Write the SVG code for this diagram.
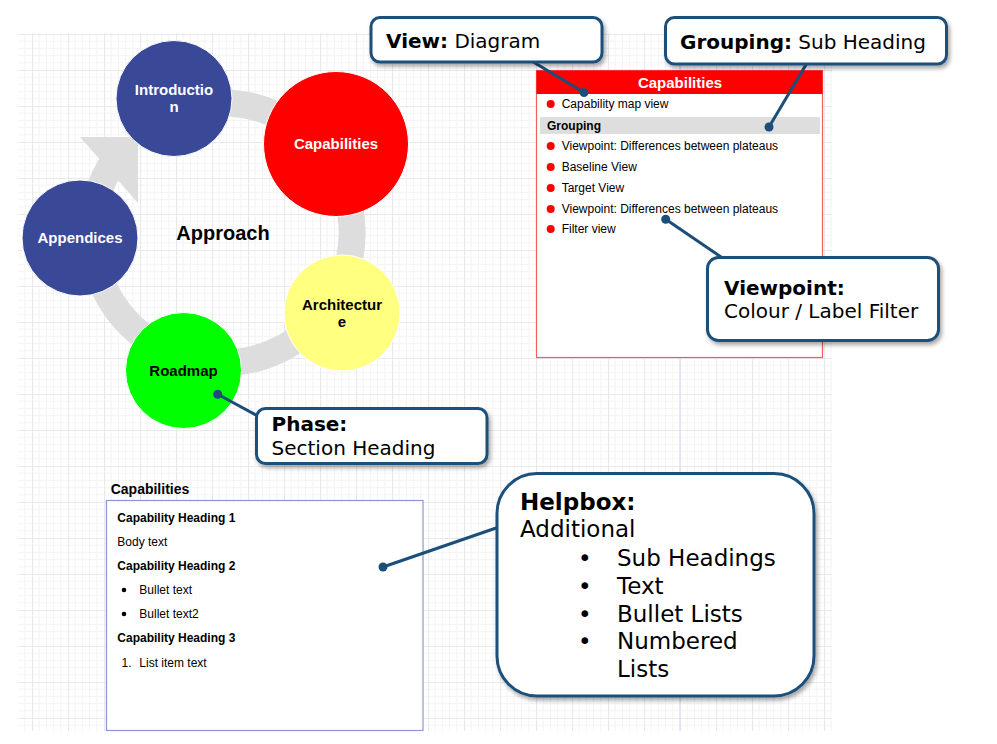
<svg xmlns="http://www.w3.org/2000/svg" width="997" height="744" viewBox="0 0 997 744">
  <defs>
    <pattern id="grid" patternUnits="userSpaceOnUse" x="32" y="34" width="36" height="36">
      <path d="M7.2 0V36M14.4 0V36M21.6 0V36M28.8 0V36M0 7.2H36M0 14.4H36M0 21.6H36M0 28.8H36" stroke="#f4f4f4" stroke-width="1" fill="none"/>
      <path d="M0.5 0V36M0 0.5H36" stroke="#e9e9e9" stroke-width="1.2" fill="none"/>
    </pattern>
    <filter id="shadow" x="-10%" y="-20%" width="125%" height="150%">
      <feDropShadow dx="2" dy="3" stdDeviation="2" flood-color="#000" flood-opacity="0.35"/>
    </filter>
  </defs>
  <style>
    .phase { stroke: #ffffff; stroke-width: 1; }
    .pt { font-family: "Liberation Sans", Arial, sans-serif; font-size: 15px; font-weight: bold; text-anchor: middle; }
    .w { fill: #ffffff; }
    .k { fill: #000000; }
    .callout { fill: #ffffff; stroke: #1b4f7a; stroke-width: 3; filter: url(#shadow); }
    .ct { font-family: "DejaVu Sans", Verdana, sans-serif; font-size: 20px; fill: #000; }
    .hb { font-family: "DejaVu Sans", Verdana, sans-serif; font-size: 23px; fill: #000; }
    .b { font-weight: bold; }
    .conn { stroke: #1b4f7a; stroke-width: 3; fill: none; }
    .dot { fill: #1b4f7a; }
    .it { font-family: "Liberation Sans", Arial, sans-serif; font-size: 12px; fill: #000; }
    .rb { fill: #ff0000; }
  </style>

  <rect x="0" y="0" width="997" height="744" fill="#ffffff"/>
  <rect x="18" y="33" width="814" height="698" fill="url(#grid)"/>
  <line x1="680" y1="33" x2="680" y2="731" stroke="#e0e0f6" stroke-width="1.5"/>

  <!-- Approach cycle -->
  <g id="cycle-arrow">
    <path d="M157 120.4 A130 130 0 1 1 111.8 164.1" fill="none" stroke="#dddddd" stroke-width="27"/>
    <polygon points="80,137 138,137 138,203" fill="#dddddd"/>
  </g>
  <g id="approach-label">
    <text x="223" y="240" font-family="Liberation Sans, Arial, sans-serif" font-size="20" font-weight="bold" text-anchor="middle">Approach</text>
  </g>
  <g id="node-introduction">
    <circle class="phase" cx="174" cy="98.5" r="58" fill="#3a4898"/>
    <text class="pt w" x="174" y="95">Introductio</text>
    <text class="pt w" x="174" y="112">n</text>
  </g>
  <g id="node-capabilities">
    <circle class="phase" cx="336" cy="144" r="72.5" fill="#ff0000"/>
    <text class="pt w" x="336" y="149">Capabilities</text>
  </g>
  <g id="node-appendices">
    <circle class="phase" cx="80" cy="238" r="58" fill="#3a4898"/>
    <text class="pt w" x="80" y="243">Appendices</text>
  </g>
  <g id="node-architecture">
    <circle class="phase" cx="342" cy="313" r="58" fill="#ffff80"/>
    <text class="pt k" x="342" y="310">Architectur</text>
    <text class="pt k" x="342" y="327">e</text>
  </g>
  <g id="node-roadmap">
    <circle class="phase" cx="183.5" cy="370.5" r="58" fill="#00ff00"/>
    <text class="pt k" x="183.5" y="376">Roadmap</text>
  </g>

  <!-- Capabilities panel -->
  <g id="panel-capabilities">
    <rect x="536.5" y="70.5" width="286" height="287" fill="#ffffff" stroke="#f06060" stroke-width="1.2"/>
    <rect x="536.5" y="70.5" width="286" height="23.5" fill="#ff0000"/>
    <text x="680" y="88" font-family="Liberation Sans, Arial, sans-serif" font-size="15" font-weight="bold" fill="#ffffff" text-anchor="middle">Capabilities</text>
    <circle class="rb" cx="550.7" cy="104" r="4"/>
    <text class="it" x="561.7" y="108">Capability map view</text>
    <rect x="540" y="117" width="280" height="17" fill="#dedede"/>
    <text class="it b" x="547" y="129.5">Grouping</text>
    <circle class="rb" cx="550.7" cy="146" r="4"/>
    <text class="it" x="561.7" y="150">Viewpoint: Differences between plateaus</text>
    <circle class="rb" cx="550.7" cy="167" r="4"/>
    <text class="it" x="561.7" y="171">Baseline View</text>
    <circle class="rb" cx="550.7" cy="188" r="4"/>
    <text class="it" x="561.7" y="192">Target View</text>
    <circle class="rb" cx="550.7" cy="209" r="4"/>
    <text class="it" x="561.7" y="213">Viewpoint: Differences between plateaus</text>
    <circle class="rb" cx="550.7" cy="229" r="4"/>
    <text class="it" x="561.7" y="233">Filter view</text>
  </g>

  <!-- Document box -->
  <g id="doc-capabilities">
    <text x="110.7" y="494" font-family="Liberation Sans, Arial, sans-serif" font-size="14" font-weight="bold">Capabilities</text>
    <rect x="106.5" y="500.5" width="316.5" height="230" fill="#ffffff" stroke="#8e97d6" stroke-width="1.2"/>
    <text class="it b" x="117.3" y="522">Capability Heading 1</text>
    <text class="it" x="117.3" y="546">Body text</text>
    <text class="it b" x="117.3" y="570">Capability Heading 2</text>
    <circle cx="124" cy="590" r="2.3" fill="#000"/>
    <text class="it" x="139.3" y="594">Bullet text</text>
    <circle cx="124" cy="614" r="2.3" fill="#000"/>
    <text class="it" x="139.3" y="618">Bullet text2</text>
    <text class="it b" x="117.3" y="642">Capability Heading 3</text>
    <text class="it" x="121.5" y="667">1.</text>
    <text class="it" x="139.3" y="667">List item text</text>
  </g>

  <!-- Connectors -->
  <g id="connectors">
    <line class="conn" x1="530" y1="60" x2="584" y2="92.5"/>
    <circle class="dot" cx="584" cy="92.5" r="4.5"/>
    <line class="conn" x1="807" y1="63" x2="769" y2="127"/>
    <circle class="dot" cx="769" cy="127" r="4.5"/>
    <line class="conn" x1="724" y1="259" x2="665.7" y2="219.3"/>
    <circle class="dot" cx="665.7" cy="219.3" r="4.5"/>
    <line class="conn" x1="258" y1="416" x2="217.7" y2="394.3"/>
    <circle class="dot" cx="217.7" cy="394.3" r="4.5"/>
    <line class="conn" x1="499" y1="527" x2="383" y2="567"/>
    <circle class="dot" cx="383" cy="567" r="4.5"/>
  </g>

  <!-- Callouts -->
  <g id="callout-view">
    <rect class="callout" x="371" y="17.5" width="231" height="44.5" rx="9"/>
    <text class="ct" x="386" y="48"><tspan class="b">View:</tspan> Diagram</text>
  </g>
  <g id="callout-grouping">
    <rect class="callout" x="665.5" y="17.5" width="281" height="46.5" rx="9"/>
    <text class="ct" x="680" y="49"><tspan class="b">Grouping:</tspan> Sub Heading</text>
  </g>
  <g id="callout-viewpoint">
    <rect class="callout" x="707.5" y="257.5" width="231" height="83" rx="11"/>
    <text class="ct b" x="724" y="295">Viewpoint:</text>
    <text class="ct" x="724" y="318">Colour / Label Filter</text>
  </g>
  <g id="callout-phase">
    <rect class="callout" x="256.5" y="408.5" width="230.5" height="55" rx="9"/>
    <text class="ct b" x="271.5" y="431">Phase:</text>
    <text class="ct" x="271.5" y="455">Section Heading</text>
  </g>
  <g id="callout-helpbox">
    <rect class="callout" x="497" y="473.5" width="317" height="222.5" rx="40"/>
    <text class="hb b" x="520" y="510">Helpbox:</text>
    <text class="hb" x="520" y="537">Additional</text>
    <text class="hb" x="578" y="566">•</text>
    <text class="hb" x="617" y="566">Sub Headings</text>
    <text class="hb" x="578" y="594">•</text>
    <text class="hb" x="617" y="594">Text</text>
    <text class="hb" x="578" y="622">•</text>
    <text class="hb" x="617" y="622">Bullet Lists</text>
    <text class="hb" x="578" y="649">•</text>
    <text class="hb" x="617" y="649">Numbered</text>
    <text class="hb" x="617" y="677">Lists</text>
  </g>
</svg>
